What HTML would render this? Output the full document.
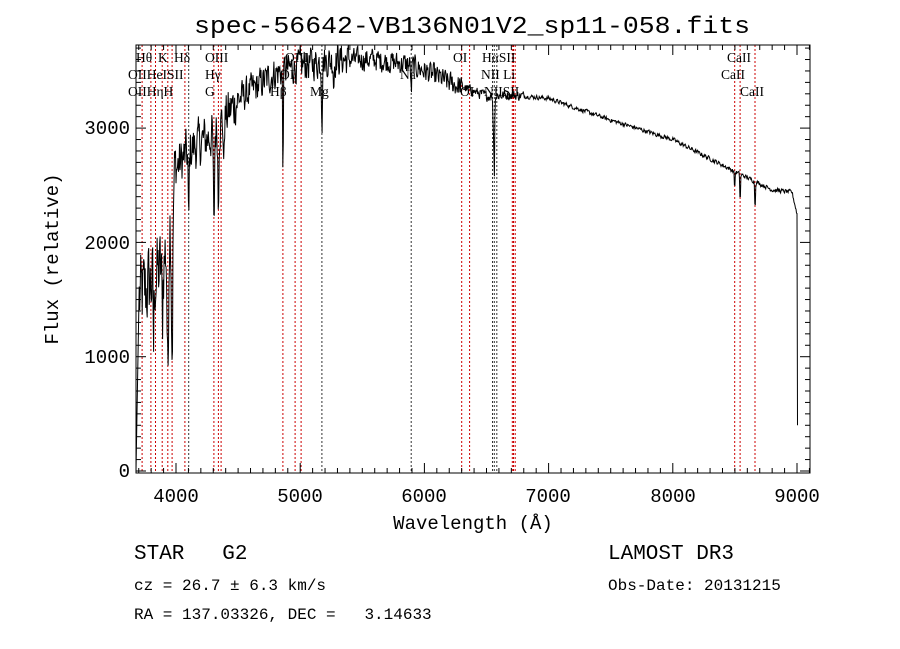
<!DOCTYPE html>
<html><head><meta charset="utf-8"><style>
html,body{margin:0;padding:0;background:#fff}
svg{display:block}
.t{font-family:"Liberation Serif",serif;fill:#000}
.m{font-family:"Liberation Mono",monospace;fill:#000}
</style></head><body>
<svg id="s" width="900" height="649" xmlns="http://www.w3.org/2000/svg">
<rect width="900" height="649" fill="#fff"/>
<g id="lines"></g>
<path id="spec" fill="none" stroke="#000" stroke-width="1"/>
<rect x="136" y="45" width="674" height="428" fill="none" stroke="#000" stroke-width="1"/>
<g id="ticks" stroke="#000" stroke-width="1"></g>
<text class="m" x="472" y="33" font-size="24" text-anchor="middle" textLength="556" lengthAdjust="spacingAndGlyphs">spec-56642-VB136N01V2_sp11-058.fits</text>
<g class="m" font-size="19" text-anchor="middle">
<text x="176" y="502">4000</text><text x="300" y="502">5000</text><text x="424" y="502">6000</text>
<text x="548" y="502">7000</text><text x="673" y="502">8000</text><text x="797" y="502">9000</text>
</g>
<g class="m" font-size="19" text-anchor="end">
<text x="130" y="477">0</text><text x="130" y="363">1000</text><text x="130" y="249">2000</text><text x="130" y="134">3000</text>
</g>
<text class="m" x="473" y="529" font-size="19" text-anchor="middle">Wavelength (Å)</text>
<text class="m" transform="translate(58,259) rotate(-90)" font-size="19" text-anchor="middle">Flux (relative)</text>
<g class="t" font-size="13.5">
<text x="136" y="62">Hθ</text><text x="158" y="62">K</text><text x="174" y="62">Hδ</text><text x="205" y="62">OIII</text><text x="285" y="62">OIII</text>
<text x="453" y="62">OI</text><text x="482" y="62">HαSII</text><text x="727" y="62">CaII</text>
<text x="128" y="79">OIIHeISII</text><text x="205" y="79">Hγ</text><text x="280" y="79">OI</text><text x="400" y="79">Na</text><text x="481" y="79">NII Li</text><text x="721" y="79">CaII</text>
<text x="128" y="96">OIIHηH</text><text x="205" y="96">G</text><text x="270" y="96">Hβ</text><text x="310" y="96">Mg</text><text x="460" y="96">OI</text><text x="484" y="96">NIISII</text><text x="740" y="96">CaII</text>
</g>
<g class="m">
<text x="134" y="559" font-size="21">STAR&#160;&#160;&#160;G2</text>
<text x="608" y="559" font-size="21">LAMOST DR3</text>
<text x="134" y="590" font-size="16">cz = 26.7 ± 6.3 km/s</text>
<text x="608" y="590" font-size="16">Obs-Date: 20131215</text>
<text x="134" y="619" font-size="16" xml:space="preserve">RA = 137.03326, DEC =   3.14633</text>
</g>
</svg>
<script>
(function(){
var X=function(l){return 176+(l-4000)*0.1242;};
var Y=function(v){return 471-v*0.1143;};
var L=[3727,3798,3835,3889,3934,3969,4072,4102,4305,4341,4363,4861,4959,5007,5175,5894,6300,6364,6548,6563,6583,6708,6717,6731,8498,8542,8662];
var g=document.getElementById('lines'),h='';
L.forEach(function(l){var x=X(l).toFixed(1);var c=(l==4102||l==5175||l==5894||l==6548||l==6563||l==6583)?'#333':'#c00';
h+='<line x1="'+x+'" y1="45" x2="'+x+'" y2="473" stroke="'+c+'" stroke-width="1" stroke-dasharray="2,2"/>';});
g.innerHTML=h;
var t='';
for(var l=3700;l<=9100;l+=100){var x=X(l);if(x<136||x>810)continue;var big=l%1000==0;var len=big?10:5;
t+='<line x1="'+x+'" y1="473" x2="'+x+'" y2="'+(473-len)+'"/><line x1="'+x+'" y1="45" x2="'+x+'" y2="'+(45+len)+'"/>';}
for(var v=0;v<=3700;v+=100){var y=Y(v);var big=v%1000==0;var len=big?10:5;
t+='<line x1="136" y1="'+y+'" x2="'+(136+len)+'" y2="'+y+'"/><line x1="810" y1="'+y+'" x2="'+(810-len)+'" y2="'+y+'"/>';}
document.getElementById('ticks').innerHTML=t;
var K=[[3700,1500],[3900,1800],[4000,2650],[4100,2800],[4300,2950],[4500,3250],[4800,3480],[5000,3550],[5300,3600],[5600,3600],[5900,3550],[6200,3400],[6500,3280],[6700,3290],[7000,3260],[7500,3070],[8000,2900],[8500,2620],[8800,2460],[8960,2440],[9000,2250]];
function cont(l){for(var i=0;i<K.length-1;i++){if(l<=K[i+1][0]){var f=(l-K[i][0])/(K[i+1][0]-K[i][0]);return K[i][1]+f*(K[i+1][1]-K[i][1]);}}return 2250;}
var D=[[3934,1300,8],[3969,1300,8],[3820,600,5],[3890,500,5],[4102,700,5],[4305,900,6],[4341,700,5],[4384,500,4],[4861,900,4],[5175,500,5],[5270,250,4],[5894,250,5],[6563,750,3],[6555,300,5],[8542,250,3],[8662,250,3],[8498,150,3]];
var seed=12345;function rnd(){seed=(seed*1103515245+12345)%2147483648;return seed/2147483648;}
var d='M136,471',prev=0;
for(var l=3704;l<=9004;l+=4){var c=cont(l);var amp=l<4000?500:l<4500?280:l<5400?190:l<6300?130:l<6800?60:25;
var n=(rnd()-0.5)*2*amp;prev=0.3*prev+0.7*n;var v=c+prev;
D.forEach(function(a){var z=(l-a[0])/Math.max(a[2],4);v-=a[1]*Math.exp(-z*z);});
if(l>9000)v=400;
d+='L'+X(l).toFixed(1)+','+Math.max(45,Math.min(473,Y(v))).toFixed(1);}
document.getElementById('spec').setAttribute('d',d);
})();
</script>
</body></html>
